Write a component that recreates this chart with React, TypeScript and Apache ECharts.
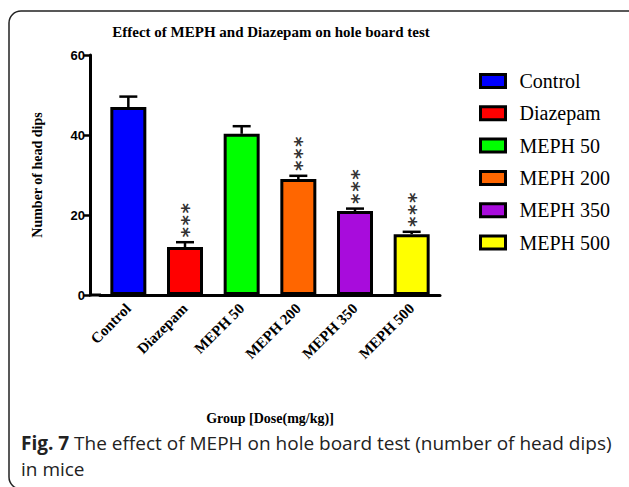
import React, { useEffect, useRef } from "react";
import * as echarts from "echarts";

const categories = ["Control", "Diazepam", "MEPH 50", "MEPH 200", "MEPH 350", "MEPH 500"];
const meanValues = [47.0, 12.0, 40.3, 29.0, 21.0, 15.2];
const errorTops = [49.6, 13.2, 42.2, 29.8, 21.6, 15.8];
const significance = ["", "***", "", "***", "***", "***"];
const barColors = ["#0000FF", "#FF0000", "#00FF00", "#FF6600", "#A80CDC", "#FFFF00"];
const yTicks = [0, 20, 40, 60];

const titleText = "Effect of MEPH and Diazepam on hole board test";
const yAxisTitle = "Number of head dips";
const xAxisTitle = "Group [Dose(mg/kg)]";
const captionBold = "Fig. 7";
const captionLine1 = " The effect of MEPH on hole board test (number of head dips)";
const captionLine2 = "in mice";

const SERIF = "'Liberation Serif', 'Times New Roman', serif";
const SANS = "'Liberation Sans', Arial, sans-serif";

export default function App() {
  const ref = useRef<HTMLDivElement>(null);

  useEffect(() => {
    document.body.style.margin = "0";
    if (!ref.current) return;
    const chart = echarts.init(ref.current, null, { renderer: "svg" });

    const barSeries = categories.map((name, i) => ({
      name,
      type: "bar",
      stack: "groups",
      barWidth: 36,
      data: categories.map((_, j) => (j === i ? meanValues[i] : "-")),
      itemStyle: { color: barColors[i], borderColor: "#000", borderWidth: 3 },
      z: 2,
    }));

    const errSeries = {
      type: "custom",
      name: "err",
      z: 5,
      data: categories.map((_, i) => [i, meanValues[i], errorTops[i]]),
      renderItem: (params: any, api: any) => {
        const i = api.value(0);
        const base = api.coord([i, api.value(1)]);
        const top = api.coord([i, api.value(2)]);
        const children: any[] = [
          {
            type: "line",
            shape: { x1: base[0], y1: base[1], x2: top[0], y2: top[1] },
            style: { stroke: "#000", lineWidth: 2.5 },
          },
          {
            type: "line",
            shape: { x1: top[0] - 9, y1: top[1], x2: top[0] + 9, y2: top[1] },
            style: { stroke: "#000", lineWidth: 2.5 },
          },
        ];
        const sig = significance[params.dataIndex] || "";
        if (sig.length) {
          children.push({
            type: "text",
            x: top[0] + 3,
            y: top[1] - 9 - ((sig.length - 1) * 13) / 2,
            rotation: Math.PI / 2,
            style: {
              text: sig,
              fill: "#333",
              font: "bold 20px 'DejaVu Sans Mono', monospace",
              align: "center",
              verticalAlign: "middle",
            },
          });
        }
        return { type: "group", children };
      },
    };

    chart.setOption({
      animation: false,
      backgroundColor: "#fff",
      grid: { left: 100, top: 55, width: 340, height: 240, containLabel: false },
      legend: {
        orient: "vertical",
        left: 474,
        top: 66,
        itemWidth: 25,
        itemHeight: 13,
        itemGap: 12.3,
        icon: "rect",
        data: categories,
        itemStyle: { borderColor: "#000", borderWidth: 3 },
        textStyle: {
          fontFamily: SERIF,
          fontSize: 20,
          color: "#000",
          lineHeight: 20,
          padding: [0, 0, 0, 9],
        },
      },
      xAxis: {
        type: "category",
        data: categories,
        name: xAxisTitle,
        nameLocation: "middle",
        nameGap: 116,
        nameTextStyle: { fontFamily: SERIF, fontWeight: "bold", fontSize: 14, color: "#000" },
        axisLine: { lineStyle: { color: "#000", width: 3 } },
        axisTick: { alignWithLabel: true, length: 6, lineStyle: { color: "#000", width: 2.5 } },
        axisLabel: {
          rotate: 45,
          margin: 11,
          fontFamily: SERIF,
          fontWeight: "bold",
          fontSize: 15,
          color: "#000",
        },
      },
      yAxis: {
        type: "value",
        min: 0,
        max: 60,
        interval: 20,
        offset: 10,
        name: yAxisTitle,
        nameLocation: "middle",
        nameGap: 46,
        nameTextStyle: { fontFamily: SERIF, fontWeight: "bold", fontSize: 14, color: "#000" },
        axisLine: { show: true, lineStyle: { color: "#000", width: 3 } },
        axisTick: { show: true, length: 6, lineStyle: { color: "#000", width: 2.5 } },
        axisLabel: {
          margin: 5,
          fontFamily: SANS,
          fontWeight: "bold",
          fontSize: 13,
          color: "#000",
          formatter: (v: number) => (yTicks.includes(v) ? String(v) : ""),
        },
        splitLine: { show: false },
      },
      graphic: [
        {
          type: "rect",
          shape: { x: 9, y: 11, width: 640, height: 478, r: 12 },
          style: { fill: "none", stroke: "#222", lineWidth: 1.5 },
          silent: true,
        },
        {
          type: "line",
          shape: { x1: 89, y1: 295, x2: 101, y2: 295 },
          style: { stroke: "#000", lineWidth: 3 },
          silent: true,
        },
        {
          type: "text",
          x: 271,
          y: 32,
          style: {
            text: titleText,
            font: "bold 15px " + SERIF,
            fill: "#000",
            align: "center",
            verticalAlign: "middle",
          },
        },
        {
          type: "text",
          x: 21,
          y: 430,
          style: {
            text: "{b|" + captionBold + "}{r|" + captionLine1 + "}\n{r|" + captionLine2 + "}",
            fill: "#222",
            rich: {
              b: { fontFamily: "'Open Sans', sans-serif", fontWeight: "bold", fontSize: 19, lineHeight: 26, fill: "#222" },
              r: { fontFamily: "'Open Sans', sans-serif", fontSize: 19, lineHeight: 26, fill: "#222" },
            },
            align: "left",
            verticalAlign: "top",
          },
        },
      ],
      series: [...barSeries, errSeries],
    });

    return () => chart.dispose();
  }, []);

  return (
    <div
      ref={ref}
      style={{ position: "absolute", left: 0, top: 0, width: 629, height: 487 }}
    />
  );
}
